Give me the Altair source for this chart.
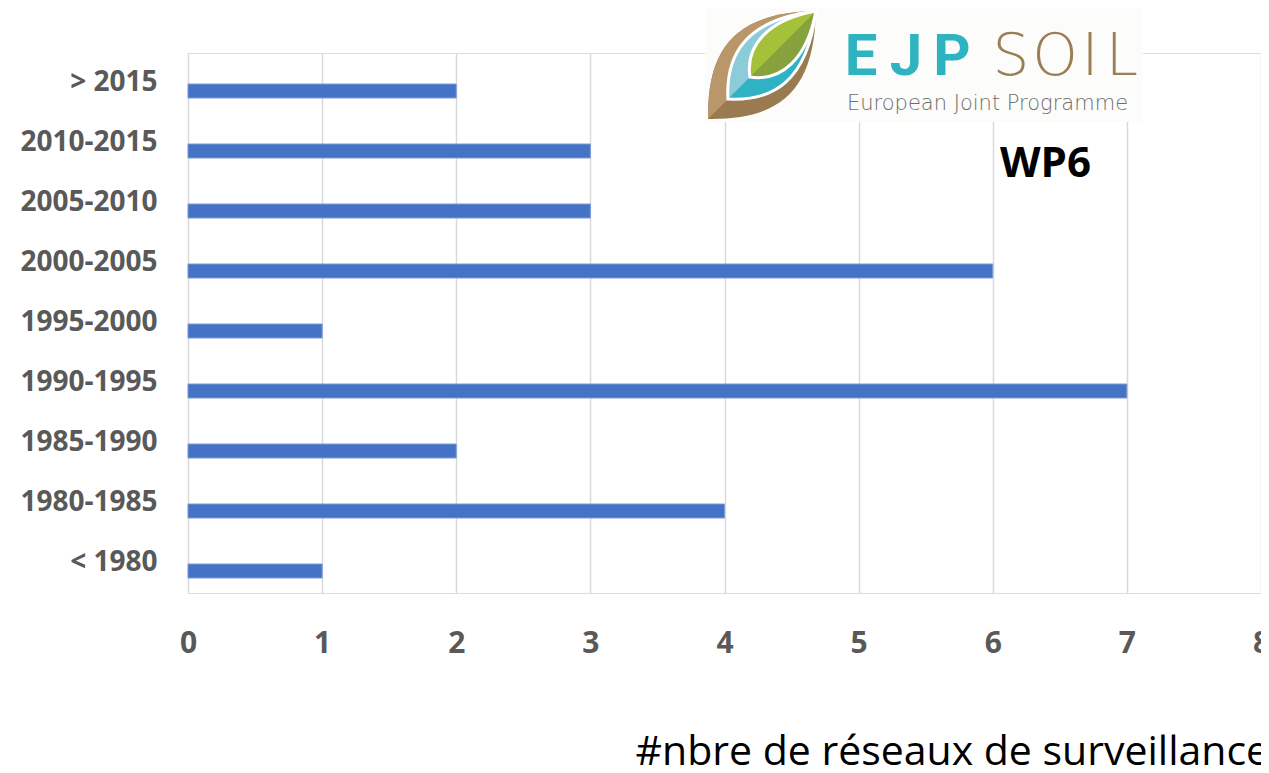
import altair as alt
import pandas as pd

# ---- data ----
periods = ["> 2015", "2010-2015", "2005-2010", "2000-2005", "1995-2000",
           "1990-1995", "1985-1990", "1980-1985", "< 1980"]
counts = [2, 3, 3, 6, 1, 7, 2, 4, 1]
x_ticks = [0, 1, 2, 3, 4, 5, 6, 7, 8]

x_title = "#nbre de réseaux de surveillance"
wp_label = "WP6"
logo_main = ["E", "J", "P"]
logo_soil = ["S", "O", "I", "L"]
logo_sub = "European Joint Programme"

df = pd.DataFrame({"period": periods, "count": counts})

W, H = 1073, 540
LABEL_GRAY = "#595959"

bars = alt.Chart(df).mark_bar(
    height=14, yOffset=8, color="#4472c4", stroke="#7c9ad6", strokeWidth=1
).encode(
    x=alt.X("count:Q",
            scale=alt.Scale(domain=[0, 8], nice=False),
            axis=alt.Axis(values=x_ticks, format="d", grid=True, gridColor="#d9d9d9",
                          gridWidth=1.5, domain=False, ticks=False, tickSize=0,
                          labelFlush=False, labelOverlap=False,
                          labelPadding=35, labelFont="Open Sans", labelFontSize=30,
                          labelFontWeight="bold", labelColor=LABEL_GRAY,
                          labelBaseline="top",
                          title=x_title, titleX=447, titleY=171, titleAlign="left",
                          titleBaseline="alphabetic", titleFont="Open Sans",
                          titleFontSize=41, titleFontWeight="normal", titleColor="#000000")),
    y=alt.Y("period:N", sort=periods,
            scale=alt.Scale(paddingInner=0, paddingOuter=0),
            axis=alt.Axis(title=None, domain=False, ticks=False, tickSize=0, grid=False,
                          labelPadding=31, labelFont="Open Sans", labelFontSize=28,
                          labelFontWeight="bold", labelColor=LABEL_GRAY,
                          labelAlign="right", labelBaseline="middle")),
)

one = alt.Data(values=[{"k": 0}])

# logo background
logo_bg = alt.Chart(one).mark_rect(color="#fcfcfa").encode(
    x=alt.value(517), x2=alt.value(955), y=alt.value(-45), y2=alt.value(69)
)

LC = dict(x=alt.value(574), y=alt.value(12))
LSIZE = 12100


def leaf(path, fill):
    return alt.Chart(one).mark_point(shape=path, filled=True, fill=fill, size=LSIZE,
                                     opacity=1, strokeWidth=0).encode(**LC)


def leaf_outline(path):
    return alt.Chart(one).mark_point(shape=path, filled=False, stroke="#ffffff",
                                     strokeWidth=3, size=LSIZE, opacity=1).encode(**LC)


brown_full = "M -0.98 0.98 C -1.0 -0.35 -0.45 -0.95 0.98 -0.98 C 0.95 0.45 0.35 1.0 -0.98 0.98 Z"
brown_half = "M -0.98 0.98 C -1.0 -0.35 -0.45 -0.95 0.98 -0.98 Z"
blue_full = "M -0.62 0.62 C -0.66 -0.2 -0.3 -0.82 0.98 -0.98 C 0.82 0.3 0.2 0.66 -0.62 0.62 Z"
blue_half = "M -0.62 0.62 C -0.66 -0.2 -0.3 -0.82 0.98 -0.98 Z"
green_full = "M -0.22 0.22 C -0.3 -0.35 0.1 -0.82 0.98 -0.98 C 0.82 -0.1 0.35 0.3 -0.22 0.22 Z"
green_half = "M -0.22 0.22 C -0.3 -0.35 0.1 -0.82 0.98 -0.98 Z"

logo_layers = [
    leaf(brown_full, "#9a7a50"), leaf(brown_half, "#b9976b"),
    leaf(blue_full, "#2fb2c3"), leaf(blue_half, "#8ccbd8"), leaf_outline(blue_full),
    leaf(green_full, "#85a23d"), leaf(green_half, "#a5c13a"), leaf_outline(green_full),
]


def letter(ch, xc, font, weight, color):
    return alt.Chart(one).mark_text(text=ch, font=font, fontWeight=weight, fontSize=58,
                                    color=color, align="center",
                                    baseline="alphabetic").encode(x=alt.value(xc), y=alt.value(22))


main_x = [673, 718, 764]
soil_x = [823, 867, 902, 934]
letters = [letter(c, x, "Roboto", "bold", "#2eb3c1") for c, x in zip(logo_main, main_x)]
letters += [letter(c, x, "DejaVu Sans", 200, "#9c7e55") for c, x in zip(logo_soil, soil_x)]

t_sub = alt.Chart(one).mark_text(text=logo_sub, font="DejaVu Sans", fontWeight=300,
                                 fontSize=21, color="#6d6d6d", align="left",
                                 baseline="alphabetic").encode(x=alt.value(659), y=alt.value(57))
t_wp = alt.Chart(one).mark_text(text=wp_label, font="Open Sans", fontWeight="bold",
                                fontSize=42, color="#000000", align="left",
                                baseline="alphabetic").encode(x=alt.value(812), y=alt.value(124))

chart = alt.layer(bars, logo_bg, *logo_layers, *letters, t_sub, t_wp).properties(
    width=W, height=H,
    autosize=alt.AutoSizeParams(type="none"),
    padding={"left": 180, "top": 45, "right": 0, "bottom": 172},
).configure_view(stroke=None).configure(background="#ffffff")

chart.save("out.html", embed_options={"renderer": "svg", "actions": False})
